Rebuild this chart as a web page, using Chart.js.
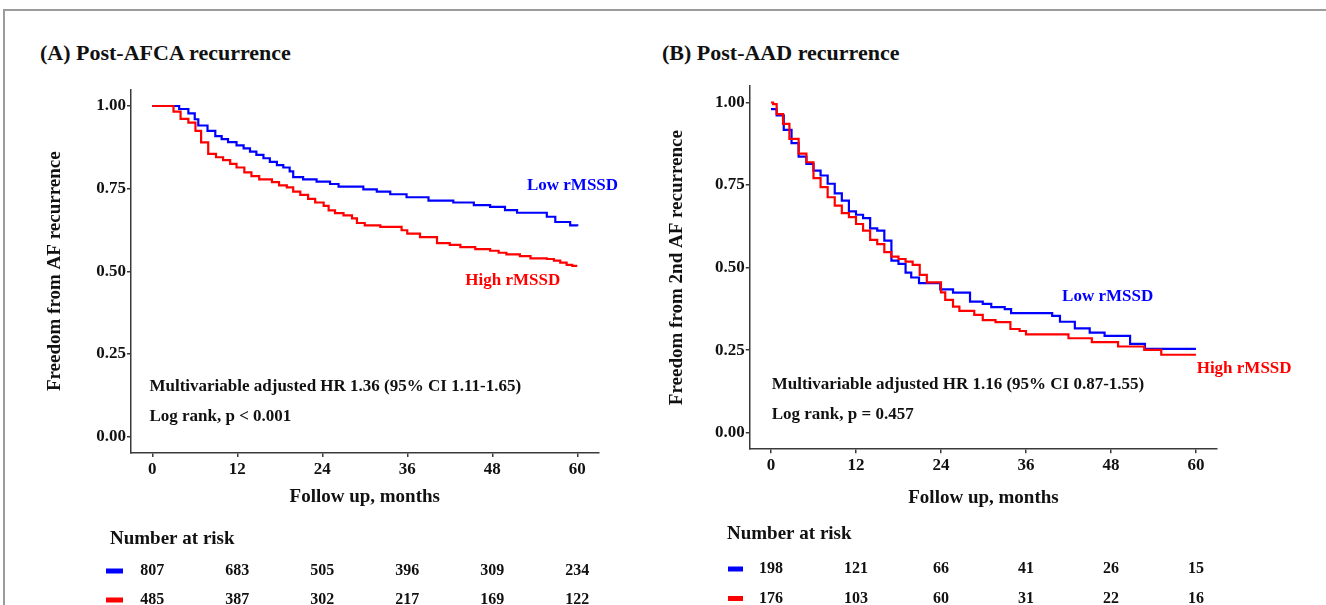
<!DOCTYPE html>
<html>
<head>
<meta charset="utf-8">
<script src="https://cdn.jsdelivr.net/npm/chart.js@4.4.0/dist/chart.umd.min.js"></script>
<style>
  html, body { margin: 0; overflow: hidden; }
  body { background: #fff; width: 1326px; height: 605px; position: relative; }
  #rule-top { position: absolute; left: 3px; top: 9px; width: 1323px; height: 2px; background: #9b9b9b; }
  #rule-left { position: absolute; left: 3px; top: 9px; width: 2px; height: 596px; background: #9b9b9b; }
  .ptitle { position: absolute; font-family: 'Liberation Serif', 'Times New Roman', serif; font-weight: bold; font-size: 22px; line-height: 22px; color: #111; white-space: nowrap; }
  canvas { position: absolute; top: 0; }
</style>
</head>
<body>
<div id="rule-top"></div>
<div id="rule-left"></div>
<div class="ptitle" style="left:40px; top:42px;">(A) Post-AFCA recurrence</div>
<div class="ptitle" style="left:662px; top:42px;">(B) Post-AAD recurrence</div>
<canvas id="chartA" width="660" height="605" style="left:0"></canvas>
<canvas id="chartB" width="660" height="605" style="left:660px"></canvas>
<script>
const SERIF = "'Liberation Serif', 'Times New Roman', serif";
const INK = "#111";
const AXIS = "#3a3a3a";
const BLUE = "#0000ff";
const RED = "#ff0000";

const xTicks = [0, 12, 24, 36, 48, 60];
const yTicks = [0, 0.25, 0.5, 0.75, 1];
const riskTimes = [0, 12, 24, 36, 48, 60];

// (A) Post-AFCA recurrence
const afcaLowT = [0, 3.8, 5.1, 6.0, 6.5, 7.8, 8.9, 9.8, 10.7, 11.9, 12.9, 13.8, 14.7, 15.7, 16.6, 17.6, 18.5, 19.4, 19.9, 21.3, 23.2, 25.1, 26.3, 29.8, 31.7, 33.6, 35.9, 39.0, 42.5, 45.4, 47.7, 49.8, 51.5, 55.7, 56.9, 59.0, 60];
const afcaLowS = [1, 0.991, 0.978, 0.960, 0.941, 0.925, 0.909, 0.900, 0.891, 0.881, 0.872, 0.862, 0.852, 0.842, 0.831, 0.821, 0.814, 0.802, 0.785, 0.778, 0.771, 0.764, 0.756, 0.748, 0.741, 0.733, 0.724, 0.714, 0.708, 0.700, 0.695, 0.685, 0.677, 0.665, 0.649, 0.639, 0.636];
const afcaHighT = [0, 3.0, 4.0, 5.1, 6.1, 6.9, 7.9, 9.0, 10.0, 11.0, 11.9, 13.0, 14.0, 15.1, 16.9, 17.9, 19.0, 19.9, 20.9, 22.0, 23.0, 24.2, 24.9, 25.8, 27.0, 28.2, 28.9, 30.0, 32.2, 35.2, 36.0, 37.8, 40.2, 42.0, 43.5, 45.6, 47.7, 48.9, 50.0, 51.9, 53.4, 55.7, 56.7, 57.6, 58.5, 59.3, 60];
const afcaHighS = [1, 0.983, 0.961, 0.950, 0.925, 0.890, 0.855, 0.845, 0.836, 0.825, 0.814, 0.799, 0.788, 0.778, 0.770, 0.760, 0.754, 0.741, 0.731, 0.719, 0.708, 0.698, 0.684, 0.676, 0.669, 0.660, 0.646, 0.639, 0.634, 0.624, 0.614, 0.603, 0.585, 0.580, 0.573, 0.567, 0.562, 0.556, 0.551, 0.546, 0.539, 0.537, 0.532, 0.526, 0.519, 0.516, 0.516];
const afcaRiskLow = [807, 683, 505, 396, 309, 234];
const afcaRiskHigh = [485, 387, 302, 217, 169, 122];

// (B) Post-AAD recurrence
const aadLowT = [0, 0.8, 1.8, 2.9, 3.9, 5.0, 6.0, 7.0, 8.0, 9.0, 10.0, 11.0, 12.0, 13.0, 14.0, 15.0, 16.0, 17.0, 18.0, 19.0, 19.8, 20.9, 23.9, 25.7, 28.1, 29.9, 31.1, 33.0, 33.9, 39.7, 40.8, 42.9, 45.0, 47.1, 50.7, 52.8, 60];
const aadLowS = [0.980, 0.961, 0.917, 0.877, 0.836, 0.814, 0.794, 0.779, 0.754, 0.725, 0.703, 0.670, 0.660, 0.650, 0.619, 0.612, 0.582, 0.521, 0.511, 0.485, 0.470, 0.453, 0.434, 0.424, 0.397, 0.390, 0.380, 0.374, 0.362, 0.354, 0.336, 0.316, 0.303, 0.293, 0.269, 0.254, 0.254];
const aadHighT = [0, 0.3, 0.8, 1.7, 2.6, 3.9, 5.0, 6.0, 7.0, 8.0, 9.0, 10.0, 11.0, 12.0, 13.0, 14.0, 15.0, 16.0, 17.0, 18.0, 19.0, 20.0, 21.0, 22.0, 24.0, 24.6, 25.7, 26.6, 28.7, 29.9, 31.7, 33.8, 35.1, 36.0, 42.0, 45.3, 49.0, 52.7, 55.1, 60];
const aadHighS = [1, 0.995, 0.965, 0.935, 0.890, 0.845, 0.819, 0.771, 0.744, 0.713, 0.688, 0.665, 0.653, 0.632, 0.612, 0.584, 0.571, 0.547, 0.533, 0.526, 0.518, 0.508, 0.478, 0.455, 0.425, 0.402, 0.382, 0.369, 0.357, 0.341, 0.335, 0.314, 0.308, 0.298, 0.286, 0.274, 0.261, 0.251, 0.236, 0.236];
const aadRiskLow = [198, 121, 66, 41, 26, 15];
const aadRiskHigh = [176, 103, 60, 31, 22, 16];

Chart.defaults.font.family = SERIF;

function pts(ts, ss) {
  return ts.map((t, i) => ({ x: t, y: ss[i] }));
}

function makeChart(id, cfg) {
  const L = cfg.layout;
  const tickFont = { family: SERIF, size: 17, weight: "bold" };
  const titleFont = { family: SERIF, size: 19, weight: "bold" };

  // notes inside the plot + number-at-risk table under it
  const kmText = {
    id: "kmText",
    afterDraw(chart) {
      const { ctx, scales: { x, y } } = chart;
      ctx.save();
      ctx.textBaseline = "middle";
      ctx.textAlign = "left";
      ctx.font = "bold 17px " + SERIF;
      cfg.notes.forEach(n => {
        ctx.fillStyle = n.color;
        ctx.fillText(n.text, x.getPixelForValue(n.t), y.getPixelForValue(n.s));
      });
      ctx.fillStyle = INK;
      ctx.font = "bold 19px " + SERIF;
      ctx.fillText("Number at risk", L.riskX, L.riskTitleY);
      ctx.font = "bold 16px " + SERIF;
      ctx.textAlign = "center";
      cfg.risk.forEach((row, i) => {
        const ry = L.rowY[i];
        ctx.fillStyle = row.color;
        ctx.fillRect(L.dashX, ry - 2.5, L.dashW, 5);
        ctx.fillStyle = INK;
        row.counts.forEach((c, j) => ctx.fillText(String(c), x.getPixelForValue(riskTimes[j]), ry));
      });
      ctx.restore();
    }
  };

  return new Chart(document.getElementById(id).getContext("2d"), {
    type: "line",
    data: {
      datasets: [
        { label: "High rMSSD", data: cfg.high, borderColor: RED, borderWidth: 2.2, stepped: "before", pointRadius: 0, tension: 0, fill: false },
        { label: "Low rMSSD", data: cfg.low, borderColor: BLUE, borderWidth: 2.2, stepped: "before", pointRadius: 0, tension: 0, fill: false },
      ],
    },
    options: {
      responsive: false,
      animation: false,
      layout: { padding: { left: L.padLeft, top: L.padTop, right: L.padRight, bottom: L.padBottom } },
      plugins: { legend: { display: false }, tooltip: { enabled: false }, title: { display: false } },
      scales: {
        x: {
          type: "linear",
          min: -3,
          max: 63,
          afterBuildTicks: s => { s.ticks = xTicks.map(v => ({ value: v })); },
          afterFit: s => { s.height = L.xAxisH; },
          border: { display: true, color: AXIS, width: 1.5 },
          grid: { display: true, drawOnChartArea: false, drawTicks: true, tickLength: 4, color: AXIS, lineWidth: 1.5 },
          ticks: { font: tickFont, color: INK, padding: 2, maxRotation: 0, autoSkip: false, callback: v => String(v) },
          title: { display: true, text: "Follow up, months", font: titleFont, color: INK, padding: { top: 0, bottom: L.xTitlePad } },
        },
        y: {
          type: "linear",
          min: -0.05,
          max: 1.05,
          afterBuildTicks: s => { s.ticks = yTicks.map(v => ({ value: v })); },
          afterFit: s => { s.width = L.yAxisW; },
          border: { display: true, color: AXIS, width: 1.5 },
          grid: { display: true, drawOnChartArea: false, drawTicks: true, tickLength: 4, color: AXIS, lineWidth: 1.5 },
          ticks: { font: tickFont, color: INK, padding: 1, autoSkip: false, callback: v => Number(v).toFixed(2) },
          title: { display: true, text: cfg.yTitle, font: titleFont, color: INK, padding: { top: L.yTitlePad, bottom: 0 } },
        },
      },
    },
    plugins: [kmText],
  });
}

makeChart("chartA", {
  low: pts(afcaLowT, afcaLowS),
  high: pts(afcaHighT, afcaHighS),
  yTitle: "Freedom from AF recurrence",
  notes: [
    { text: "Low rMSSD", t: 52.9, s: 0.758, color: BLUE },
    { text: "High rMSSD", t: 44.2, s: 0.471, color: RED },
    { text: "Multivariable adjusted HR 1.36 (95% CI 1.11-1.65)", t: -0.4, s: 0.152, color: INK },
    { text: "Log rank, p < 0.001", t: -0.4, s: 0.061, color: INK },
  ],
  risk: [
    { color: BLUE, counts: afcaRiskLow },
    { color: RED, counts: afcaRiskHigh },
  ],
  layout: { padLeft: 40, padTop: 89.5, padRight: 61.5, padBottom: 90, yAxisW: 91, xAxisH: 62, xTitlePad: 6.6, yTitlePad: 3.6,
            riskX: 110, riskTitleY: 539, rowY: [571, 600], dashX: 106, dashW: 17 },
});

makeChart("chartB", {
  low: pts(aadLowT, aadLowS),
  high: pts(aadHighT, aadHighS),
  yTitle: "Freedom from 2nd AF recurrence",
  notes: [
    { text: "Low rMSSD", t: 41.1, s: 0.412, color: BLUE },
    { text: "High rMSSD", t: 60.1, s: 0.195, color: RED },
    { text: "Multivariable adjusted HR 1.16 (95% CI 0.87-1.55)", t: 0.1, s: 0.145, color: INK },
    { text: "Log rank, p = 0.457", t: 0.1, s: 0.054, color: INK },
  ],
  risk: [
    { color: BLUE, counts: aadRiskLow },
    { color: RED, counts: aadRiskHigh },
  ],
  layout: { padLeft: 2, padTop: 86, padRight: 102.8, padBottom: 90, yAxisW: 87.75, xAxisH: 65.8, xTitlePad: 5.3, yTitlePad: 3.3,
            riskX: 67, riskTitleY: 534, rowY: [569, 598.5], dashX: 68, dashW: 15 },
});
</script>
</body>
</html>
